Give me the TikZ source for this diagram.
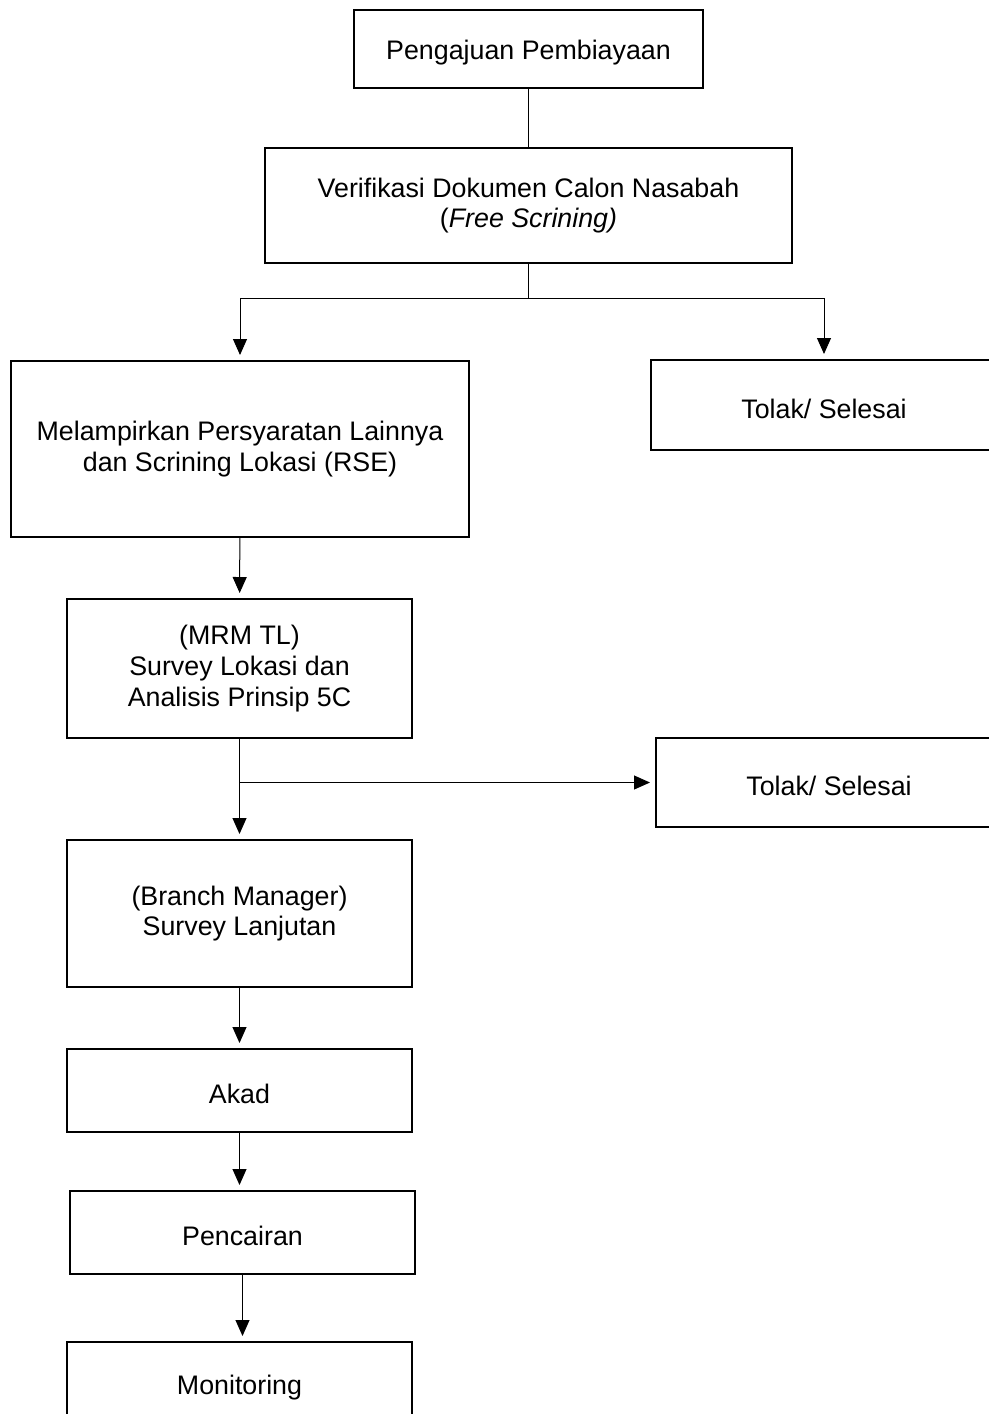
\documentclass[tikz,border=0pt]{standalone}
\usepackage{fontspec}
\setmainfont{Liberation Sans}
\usetikzlibrary{arrows.meta}
\begin{document}
\begin{tikzpicture}[x=0.5pt,y=-0.5pt,
        box/.style={draw,line width=1pt,align=center,inner sep=0pt,
            font=\fontsize{13.4pt}{15.3pt}\selectfont,
            execute at begin node={\rule{0pt}{13.5pt}}},
        arr/.style={-{Triangle[width=7pt,length=8pt]},shorten >=2.5pt},
        line width=0.5pt]
        \clip (0,0) rectangle (989,1414);
        \node [box,minimum width=174.5pt,minimum height=39pt] (aju) at (528.5,49) {Pengajuan Pembiayaan};
        \node [box,minimum width=263.5pt,minimum height=57.5pt] (verif) at (528.5,205.5) {Verifikasi Dokumen Calon Nasabah\\(\textit{Free Scrining)}};
        \node [box,minimum width=229pt,minimum height=88pt] (lampir) at (240,449) {Melampirkan Persyaratan Lainnya\\dan Scrining Lokasi (RSE)};
        \node [box,minimum width=173pt,minimum height=45pt] (tolaka) at (824,405) {Tolak/ Selesai};
        \node [box,minimum width=172.5pt,minimum height=69.5pt] (mrm) at (239.5,668.5) {(MRM TL)\\Survey Lokasi dan\\Analisis Prinsip 5C};
        \node [box,minimum width=173pt,minimum height=44.5pt] (tolakb) at (829,782.5) {Tolak/ Selesai};
        \node [box,minimum width=172.5pt,minimum height=73.5pt] (bm) at (239.5,913.5) {(Branch Manager)\\Survey Lanjutan};
        \node [box,minimum width=172.5pt,minimum height=41.5pt] (akad) at (239.5,1090.5) {Akad};
        \node [box,minimum width=172.5pt,minimum height=41.5pt] (cair) at (242.5,1232.5) {Pencairan};
        \node [box,minimum width=172.5pt,minimum height=41.5pt] (mon) at (239.5,1383.5) {Monitoring};
        % connectors
        \draw (aju) -- (verif);
        \draw (verif.south) -- ++(0,34) coordinate (split);
        \draw [arr] (split) -| (lampir.north);
        \draw [arr] (split) -| (tolaka.north);
        \draw [arr] (lampir) -- (mrm);
        \draw [arr] (mrm) -- (bm);
        \draw [arr] (mrm.south |- tolakb.west) -- (tolakb.west);
        \draw [arr] (bm) -- (akad);
        \draw [arr] (akad.south) -- (akad.south |- cair.north);
        \draw [arr] (cair.south) -- (cair.south |- mon.north);
\end{tikzpicture}
\end{document}
